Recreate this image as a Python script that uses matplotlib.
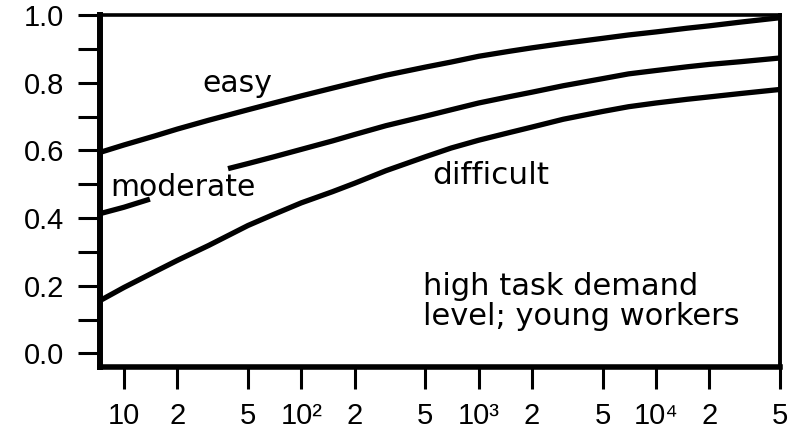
import numpy as np
import matplotlib.pyplot as plt
from matplotlib.ticker import FixedLocator, FixedFormatter, MultipleLocator, NullLocator

plt.rcParams['font.family'] = ['Liberation Sans', 'DejaVu Sans']

# x values (log axis) and the curve heights
x_vals = [7.32, 10, 15, 20, 30, 50, 70, 100, 150, 200, 300, 500, 700, 1000,
          1500, 2000, 3000, 5000, 7000, 10000, 15000, 20000, 30000, 50000]
easy = [0.594, 0.616, 0.643, 0.663, 0.689, 0.720, 0.740, 0.761, 0.784, 0.800, 0.822, 0.846,
        0.861, 0.878, 0.893, 0.903, 0.916, 0.931, 0.941, 0.950, 0.961, 0.968, 0.979, 0.992]
difficult = [0.156, 0.195, 0.242, 0.275, 0.319, 0.378, 0.411, 0.445, 0.478, 0.503, 0.540, 0.581,
             0.607, 0.630, 0.653, 0.669, 0.692, 0.715, 0.729, 0.740, 0.751, 0.758, 0.768, 0.780]
# the moderate curve is broken under its label
moderate_x = [7.32, 10, 14, np.nan, 38.6, 50, 70, 100, 150, 200, 300, 500, 700, 1000,
              1500, 2000, 3000, 5000, 7000, 10000, 15000, 20000, 30000, 50000]
moderate = [0.413, 0.432, 0.456, np.nan, 0.546, 0.561, 0.581, 0.603, 0.628, 0.647, 0.673, 0.701,
            0.720, 0.740, 0.759, 0.772, 0.791, 0.812, 0.826, 0.836, 0.847, 0.854, 0.862, 0.873]

tick_vals = [10, 20, 50, 100, 200, 500, 1000, 2000, 5000, 10000, 20000, 50000]
tick_labels = ['10', '2', '5', '10²', '2', '5', '10³', '2', '5', '10⁴', '2', '5']
y_ticks = [0.0, 0.2, 0.4, 0.6, 0.8, 1.0]

fig = plt.figure(figsize=(8.01, 4.32), dpi=100)
ax = fig.add_axes([0.1248, 0.1505, 0.849, 0.8148])

lw = 3.8
ax.plot(x_vals, easy, color='black', lw=lw, solid_capstyle='butt', solid_joinstyle='round')
ax.plot(moderate_x, moderate, color='black', lw=lw, solid_capstyle='butt', solid_joinstyle='round')
ax.plot(x_vals, difficult, color='black', lw=lw, solid_capstyle='butt', solid_joinstyle='round')

ax.set_xscale('log')
ax.set_xlim(7.32, 50000)
ax.set_ylim(-0.04, 1.0)
ax.xaxis.set_major_locator(FixedLocator(tick_vals))
ax.xaxis.set_major_formatter(FixedFormatter(tick_labels))
ax.xaxis.set_minor_locator(NullLocator())
ax.set_yticks(y_ticks)
ax.set_yticklabels(['%.1f' % v for v in y_ticks])
ax.yaxis.set_minor_locator(MultipleLocator(0.1))

ax.tick_params(which='both', direction='out', length=16, width=2.2, color='black')
ax.tick_params(axis='x', pad=9, labelsize=21)
ax.tick_params(axis='y', pad=10, labelsize=21)

ax.spines['left'].set_linewidth(4.3)
ax.spines['bottom'].set_linewidth(4.0)
ax.spines['top'].set_linewidth(2.6)
ax.spines['right'].set_linewidth(2.8)

# annotation font is wider in the original print
note_font = dict(family=['DejaVu Sans'], fontsize=21.5, va='baseline', ha='left')
ax.text(0.150, 0.781, 'easy', transform=ax.transAxes, **note_font)
ax.text(0.0147, 0.487, 'moderate', transform=ax.transAxes, **note_font)
ax.text(0.488, 0.520, 'difficult', transform=ax.transAxes, fontsize=22.5,
        family=['DejaVu Sans'], va='baseline', ha='left')
box_font = dict(family=['DejaVu Sans'], fontsize=22, va='baseline', ha='left')
ax.text(0.475, 0.204, 'high task demand', transform=ax.transAxes, **box_font)
ax.text(0.475, 0.118, 'level; young workers', transform=ax.transAxes, **box_font)

fig.savefig('out.png', dpi=100)
